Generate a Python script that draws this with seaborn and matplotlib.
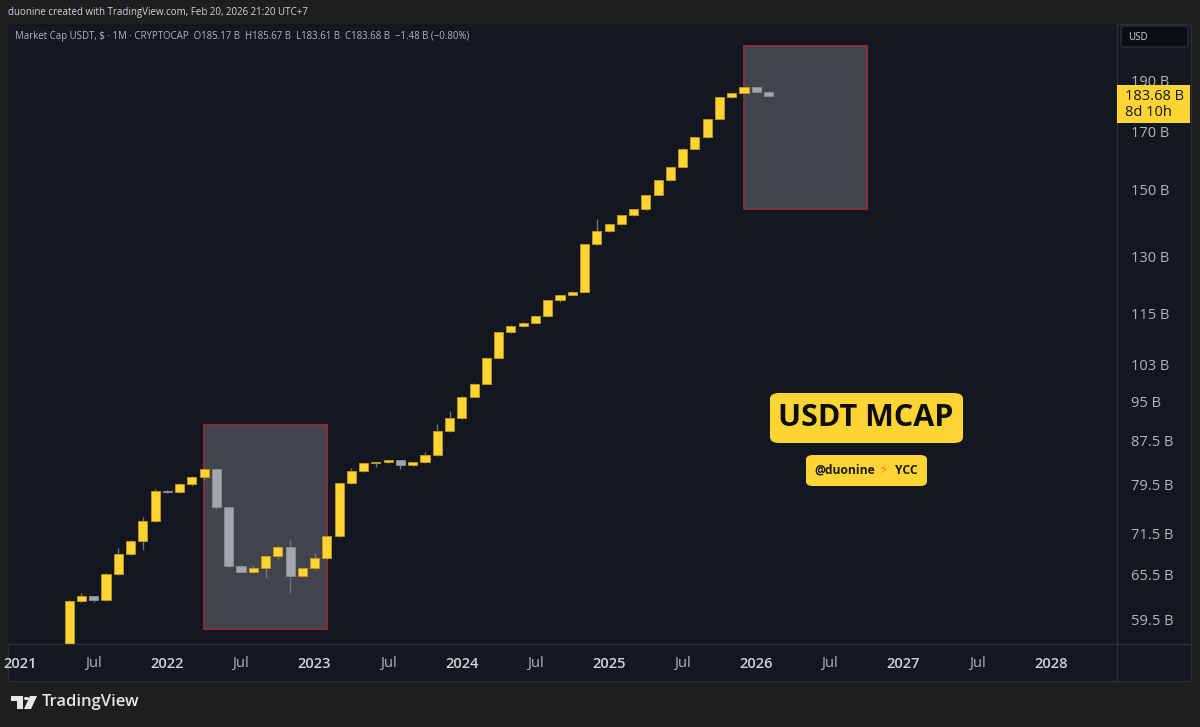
import matplotlib
matplotlib.use("Agg")
import matplotlib.pyplot as plt
from matplotlib.patches import Rectangle, FancyBboxPatch, Circle, Polygon
from matplotlib.ticker import NullLocator
import seaborn as sns
import numpy as np
import pandas as pd

# ---- data: monthly USDT market cap candles (billions) ----
months = pd.period_range("2021-05", "2026-02", freq="M")
opens = [49.9, 61.9, 62.5, 62.0, 65.6, 68.4, 70.4, 73.5,
         78.4, 78.2, 79.6, 80.9, 82.3, 75.7, 66.7, 65.9, 66.5, 68.1, 69.5, 65.3,
         66.4, 67.9, 71.1, 79.7, 81.8, 83.2, 83.4, 83.8, 83.0, 83.4, 84.7, 89.2,
         91.7, 96.1, 98.8, 104.5, 110.4, 111.9, 112.7, 114.4, 118.3, 119.6, 120.5, 133.4,
         137.4, 139.3, 142.0, 143.9, 148.4, 153.1, 157.6, 163.9, 168.0, 174.7, 183.3, 184.7,
         187.0, 185.17]
highs = [62.0, 62.9, 62.6, 65.7, 69.3, 70.5, 74.2, 78.7,
         78.5, 79.7, 81.0, 82.4, 82.4, 75.8, 66.8, 66.8, 68.2, 69.6, 70.5, 66.5,
         68.6, 71.2, 79.8, 82.4, 83.3, 83.5, 83.9, 83.9, 83.5, 85.2, 90.5, 93.2,
         96.2, 98.9, 104.6, 110.5, 112.0, 112.8, 114.5, 118.4, 119.7, 120.6, 133.5, 140.8,
         139.4, 142.1, 144.0, 148.5, 153.2, 157.7, 164.0, 168.1, 174.8, 183.4, 184.8, 187.1,
         187.3, 185.67]
lows = [49.9, 61.8, 61.8, 61.9, 65.5, 68.3, 69.0, 73.4,
        78.1, 78.1, 79.3, 80.3, 75.4, 66.6, 65.8, 65.8, 65.0, 67.8, 62.9, 65.1,
        66.2, 67.8, 71.0, 79.6, 81.7, 82.6, 83.3, 82.2, 82.8, 83.3, 84.6, 89.1,
        91.6, 96.0, 98.7, 104.4, 110.3, 111.7, 112.6, 114.0, 117.9, 119.5, 120.4, 133.3,
        137.0, 139.2, 141.9, 143.7, 148.3, 153.0, 157.5, 163.8, 167.9, 174.6, 183.0, 184.6,
        185.0, 183.61]
closes = [61.9, 62.5, 62.0, 65.6, 68.5, 70.4, 73.5, 78.4,
          78.2, 79.6, 80.9, 82.3, 75.7, 66.7, 65.9, 66.5, 68.1, 69.5, 65.3, 66.4,
          67.9, 71.1, 79.7, 81.8, 83.2, 83.4, 83.8, 83.0, 83.4, 84.7, 89.2, 91.7,
          96.1, 98.8, 104.5, 110.4, 111.9, 112.7, 114.4, 118.3, 119.6, 120.5, 133.4, 137.4,
          139.3, 142.0, 143.9, 148.4, 153.1, 157.6, 163.9, 168.0, 174.7, 183.3, 184.7, 187.0,
          185.2, 183.68]

# highlighted zones (drawn rectangles on the chart)
zone_start = ["2022-04", "2025-12"]
zone_end = ["2023-02", "2026-10"]
zone_low = [58.3, 143.9]
zone_high = [90.3, 204.4]

ytick_values = [59.5, 65.5, 71.5, 79.5, 87.5, 95, 103, 115, 130, 150, 170, 190]
ytick_labels = [f"{v:g} B" for v in ytick_values]
xtick_periods = [pd.Period(f"{y}-{m:02d}", "M") for y in range(2021, 2029) for m in (1, 7)][:-1]
xtick_labels = [str(p.year) if p.month == 1 else "Jul" for p in xtick_periods]

last_price = "183.68 B"
countdown = "8d 10h"
header = ("Market Cap USDT, $ \u00b7 1M \u00b7 CRYPTOCAP  O185.17 B  H185.67 B  "
          "L183.61 B  C183.68 B  \u22121.48 B (\u22120.80%)")
credit = "duonine created with TradingView.com, Feb 20, 2026 21:20 UTC+7"

# ---- style ----
sns.set_theme(style="dark", rc={"axes.facecolor": "#131722", "figure.facecolor": "#1e1e1e"})
plt.rcParams["font.family"] = ["Open Sans", "DejaVu Sans"]

BG = "#131722"
LINE = "#2a2e39"
TXT = "#b2b5be"
UP, UP_EDGE = "#fcd535", "#c99a14"
DN, DN_EDGE = "#a3a6af", "#8b8e97"
W, H = 1200, 727


def month_index(p):
    p = pd.Period(p, "M")
    return (p.year - 2021) * 12 + p.month - 1


def fig_rect(x0, y0, x1, y1, **kw):
    return Rectangle((x0 / W, 1 - y1 / H), (x1 - x0) / W, (y1 - y0) / H,
                     transform=fig.transFigure, **kw)


fig = plt.figure(figsize=(12, 7.27), dpi=100)
fig.patch.set_facecolor("#1e1e1e")

# chart pane background and separators
fig.patches.append(fig_rect(8, 24, 1191, 681, facecolor=BG, edgecolor=LINE, lw=1, zorder=-10))

ax = fig.add_axes([8 / W, 1 - 644 / H, (1117 - 8) / W, (644 - 24) / H])
ax.set_facecolor(BG)
ax.set_zorder(1)
for s in ax.spines.values():
    s.set_visible(False)

x = np.array([month_index(p) for p in months])
o = np.array(opens)
c = np.array(closes)
up = c >= o

# zones
for s, e, lo, hi in zip(zone_start, zone_end, zone_low, zone_high):
    xs, xe = month_index(s), month_index(e)
    ax.add_patch(Rectangle((xs, lo), xe - xs, hi - lo, facecolor="#41444e",
                           edgecolor="#8c2f3c", lw=1.3, zorder=1))

# wicks and bodies
ax.vlines(x, lows, highs, color="#6f727a", lw=1, zorder=2)
ax.bar(x[up], c[up] - o[up], bottom=o[up], width=0.74, color=UP,
       edgecolor=UP_EDGE, linewidth=0.6, zorder=3)
ax.bar(x[~up], o[~up] - c[~up], bottom=c[~up], width=0.74, color=DN,
       edgecolor=DN_EDGE, linewidth=0.6, zorder=3)

ax.set_yscale("log")
ax.set_ylim(56.4, 214.4)
ax.set_xlim(-0.99, 89.4)
ax.yaxis.tick_right()
ax.set_yticks(ytick_values)
ax.set_yticklabels(ytick_labels)
ax.yaxis.set_minor_locator(NullLocator())
ax.set_xticks([month_index(p) for p in xtick_periods])
ax.set_xticklabels(xtick_labels)
ax.tick_params(axis="y", length=0, pad=10, labelsize=10.5, labelcolor=TXT)
ax.tick_params(axis="x", length=0, pad=9, labelsize=10.5, labelcolor=TXT)
for lab in ax.get_xticklabels():
    if lab.get_text() != "Jul":
        lab.set_fontweight("semibold")
        lab.set_color("#d1d4dc")
ax.grid(False)

# separators of price / time scales
fig.add_artist(plt.Line2D([1117 / W, 1117 / W], [1 - 24 / H, 1 - 681 / H], color=LINE, lw=1,
                          transform=fig.transFigure))
fig.add_artist(plt.Line2D([8 / W, 1191 / W], [1 - 644 / H, 1 - 644 / H], color=LINE, lw=1,
                          transform=fig.transFigure))

# USD box on price scale
fig.patches.append(FancyBboxPatch((1121 / W, 1 - 47 / H), 67 / W, 21 / H,
                                  boxstyle="round,pad=0,rounding_size=0.003",
                                  facecolor="#0c0e13", edgecolor=LINE, lw=1,
                                  transform=fig.transFigure, zorder=5))
fig.text(1128 / W, 1 - 37 / H, "USD", color="#d1d4dc", fontsize=7, va="center", zorder=6)

# last price label
fig.patches.append(fig_rect(1117, 85, 1190, 123, facecolor=UP, edgecolor="none", zorder=5))
fig.text(1125 / W, 1 - 96 / H, last_price, color="#131722", fontsize=10.5, va="center", zorder=6)
fig.text(1125 / W, 1 - 113 / H, countdown, color="#131722", fontsize=10.5, va="center", zorder=6)

# header texts
fig.text(8 / W, 1 - 13 / H, credit, color="#d1d4dc", fontsize=7, va="center")
fig.text(15 / W, 1 - 37 / H, header, color=TXT, fontsize=6.9, va="center")

# watermark style labels
fig.patches.append(FancyBboxPatch((770 / W, 1 - 443 / H), 193 / W, 50 / H,
                                  boxstyle="round,pad=0,rounding_size=0.008",
                                  facecolor=UP, edgecolor="none",
                                  transform=fig.transFigure, zorder=5))
fig.text(866 / W, 1 - 418 / H, "USDT MCAP", color="#0d0d0d", fontsize=22,
         fontweight="bold", ha="center", va="center", zorder=6)
fig.patches.append(FancyBboxPatch((806 / W, 1 - 486 / H), 121 / W, 31 / H,
                                  boxstyle="round,pad=0,rounding_size=0.006",
                                  facecolor=UP, edgecolor="none",
                                  transform=fig.transFigure, zorder=5))
fig.text(875 / W, 1 - 470 / H, "@duonine", color="#1a1a1a", fontsize=8.7,
         fontweight="bold", ha="right", va="center", zorder=6)
fig.text(884 / W, 1 - 470 / H, "\u26a1", color="#f5853f", fontsize=10,
         family=["DejaVu Sans"], ha="center", va="center", zorder=6)
fig.text(895 / W, 1 - 470 / H, "YCC", color="#1a1a1a", fontsize=8.7,
         fontweight="bold", ha="left", va="center", zorder=6)

# TradingView footer logo
def px_poly(pts, **kw):
    return Polygon([(px / W, 1 - py / H) for px, py in pts], closed=True,
                   transform=fig.transFigure, **kw)

fig.patches.append(px_poly([(11, 696), (23, 696), (23, 709), (17, 709), (17, 701), (11, 701)],
                           facecolor="#e6e6e6", edgecolor="none"))
fig.patches.append(Circle((26.5 / W, 1 - 698.5 / H), 2.6 / W, facecolor="#e6e6e6",
                          edgecolor="none", transform=fig.transFigure))
fig.patches.append(px_poly([(30, 696), (37, 696), (31, 709), (24, 709)],
                           facecolor="#e6e6e6", edgecolor="none"))
fig.text(42 / W, 1 - 702 / H, "TradingView", color="#e6e6e6", fontsize=12,
         fontweight="semibold", va="center")

fig.savefig("out.png", dpi=100, facecolor=fig.get_facecolor())
